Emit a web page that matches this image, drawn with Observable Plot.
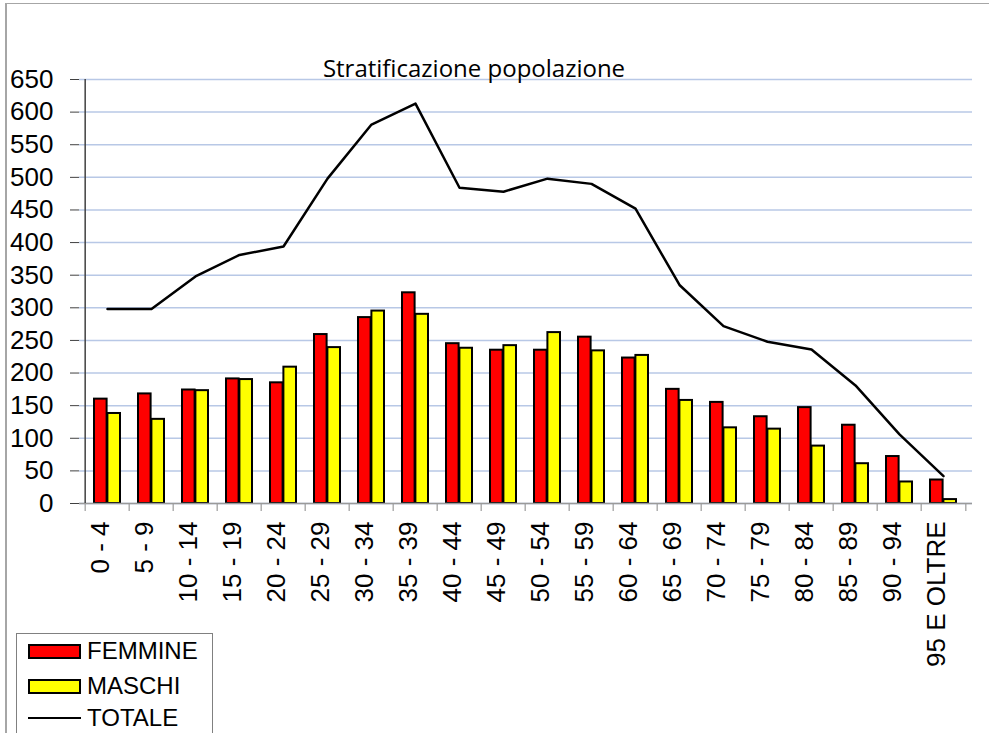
<!DOCTYPE html>
<html><head><meta charset="utf-8">
<script src="https://cdn.jsdelivr.net/npm/d3@7"></script>
<script src="https://cdn.jsdelivr.net/npm/@observablehq/plot@0.6"></script>
<style>
body{margin:0;background:#fff;}
#wrap{position:relative;width:989px;height:733px;overflow:hidden;font-family:"Liberation Sans",Arial,sans-serif;background:#fff;}
#frame{position:absolute;left:5px;top:3px;right:-2px;bottom:-2px;border-left:2px solid #a6a6a6;border-top:1px solid #a6a6a6;pointer-events:none;}
#title{position:absolute;top:52px;left:0;width:948px;text-align:center;font-family:"Open Sans",sans-serif;font-size:24px;line-height:32px;color:#000;}
#chart{position:absolute;left:0;top:0;}
#legend{position:absolute;left:16px;top:633px;width:195px;height:120px;border:1px solid #808080;background:#fff;}
.row{position:absolute;left:11px;height:26px;display:flex;align-items:center;font-size:24px;line-height:26px;}
.sw{width:53px;height:15px;box-sizing:border-box;border:2px solid #000;margin-right:6px;}
.ln{width:53px;height:0;border-top:2.5px solid #000;margin-right:6px;}
</style>
</head><body>
<div id="wrap">
  <div id="chart"></div>
  <div id="title">Stratificazione popolazione</div>
  <div id="legend"></div>
  <div id="frame"></div>
</div>
<script>
const categories = ["0 - 4","5 - 9","10 - 14","15 - 19","20 - 24","25 - 29","30 - 34","35 - 39","40 - 44","45 - 49","50 - 54","55 - 59","60 - 64","65 - 69","70 - 74","75 - 79","80 - 84","85 - 89","90 - 94","95 E OLTRE"];
const femmine = [160,168,174,191,185,259,285,323,245,235,235,255,223,175,155,133,147,120,72,36];
const maschi  = [138,129,173,190,209,239,295,290,238,242,262,234,227,158,116,114,88,61,33,6];
const totale  = [298,298,348,381,394,498,581,613,484,478,498,490,452,335,272,248,236,181,106,42];
const yTicks = d3.range(0, 651, 50);
const seriesNames = ["FEMMINE","MASCHI","TOTALE"];
const seriesColors = ["#ff0000","#ffff00","#000000"];

const rows = categories.map((c, i) => ({cat: c, f: femmine[i], m: maschi[i], t: totale[i]}));

const W = 989, H = 733, ml = 79, mr = 17, mt = 79, mb = 230;
const n = categories.length;
const step = (W - ml - mr) / n;
const bw = step * 0.6;

const chart = Plot.plot({
  width: W, height: H,
  marginLeft: ml, marginRight: mr, marginTop: mt, marginBottom: mb,
  style: {fontFamily: "'Liberation Sans', Arial, sans-serif", fontSize: "26px", background: "transparent", overflow: "visible", color: "#000"},
  x: {domain: categories, paddingInner: 0.4, paddingOuter: 0.2, axis: null, label: null},
  y: {domain: [0, 650], axis: null, label: null},
  marks: [
    Plot.gridY(yTicks, {stroke: "#b8c8e6", strokeOpacity: 1, strokeWidth: 1.5}),
    Plot.barY(rows, {x: "cat", y: "f", fill: seriesColors[0], stroke: "#000", strokeWidth: 2, insetRight: bw / 2}),
    Plot.barY(rows, {x: "cat", y: "m", fill: seriesColors[1], stroke: "#000", strokeWidth: 2, insetLeft: bw / 2}),
    Plot.lineY(rows, {x: "cat", y: "t", stroke: seriesColors[2], strokeWidth: 2.5}),
    Plot.ruleY([0], {stroke: "#9a9a9a", strokeWidth: 1.5}),
    Plot.ruleX(categories, {x: d => d, y1: 0, insetBottom: -8, dx: -step / 2, stroke: "#9a9a9a", strokeWidth: 1.2}),
    Plot.ruleX([categories[n - 1]], {x: d => d, y1: 0, insetBottom: -8, dx: step / 2, stroke: "#9a9a9a", strokeWidth: 1.2}),
    Plot.ruleX([categories[0]], {x: d => d, dx: -step / 2, stroke: "#404040", strokeWidth: 1.5}),
    Plot.axisY(yTicks, {tickSize: 9, tickPadding: 17, fontSize: 26, stroke: "#404040", fill: "#000", label: null}),
    Plot.axisX({tickSize: 0, tickPadding: 18, tickRotate: -90, fontSize: 26, fill: "#000", label: null, dx: -7})
  ]
});
document.getElementById("chart").appendChild(chart);

const legend = document.getElementById("legend");
const tops = [4, 39, 71];
seriesNames.forEach((name, i) => {
  const r = document.createElement("div");
  r.className = "row";
  r.style.top = tops[i] + "px";
  const s = document.createElement("div");
  if (i < 2) { s.className = "sw"; s.style.background = seriesColors[i]; }
  else { s.className = "ln"; s.style.borderTopColor = seriesColors[i]; }
  r.appendChild(s);
  const t = document.createElement("span");
  t.textContent = name;
  r.appendChild(t);
  legend.appendChild(r);
});
</script>
</body></html>
